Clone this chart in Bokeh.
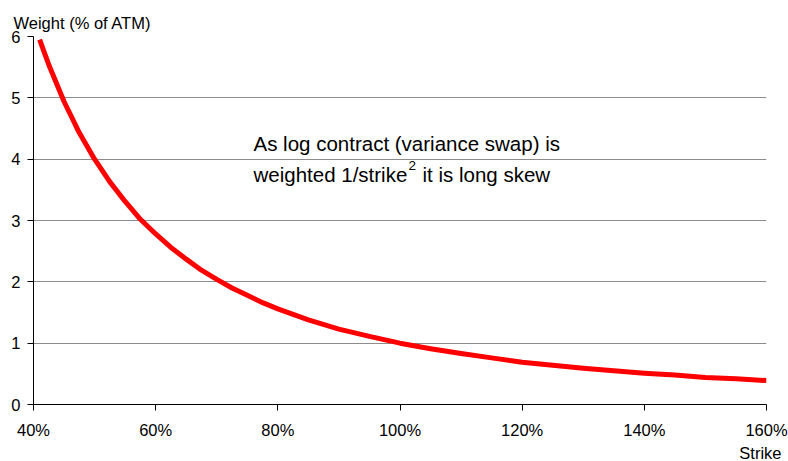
from bokeh.plotting import figure
from bokeh.models import FixedTicker, PrintfTickFormatter, Range1d, Label, Title
from bokeh.embed import file_html
from bokeh.resources import INLINE

# Strike (% of ATM) and weight (% of ATM)
strike = [41, 42.5, 45, 47.5, 50, 52.5, 55, 57.5, 60, 62.5, 65, 67.5, 70, 72.5, 75,
          77.5, 80, 85, 90, 95, 100, 105, 110, 115, 120, 125, 130, 135, 140, 145,
          150, 155, 160]
weight = [5.95, 5.54, 4.94, 4.43, 4.00, 3.63, 3.31, 3.02, 2.78, 2.56, 2.37, 2.19,
          2.04, 1.90, 1.78, 1.66, 1.56, 1.38, 1.23, 1.11, 1.00, 0.91, 0.83, 0.76,
          0.69, 0.64, 0.59, 0.55, 0.51, 0.48, 0.44, 0.42, 0.39]

x_ticks = [40, 60, 80, 100, 120, 140, 160]
y_ticks = [0, 1, 2, 3, 4, 5, 6]

FONT = "Liberation Sans"

p = figure(width=788, height=461, output_backend="svg", toolbar_location=None,
           x_range=Range1d(40, 160), y_range=Range1d(0, 6),
           min_border_left=33, min_border_right=22, min_border_top=36,
           min_border_bottom=51)
p.outline_line_color = None
p.background_fill_color = None
p.border_fill_color = None

p.title = Title(text="Weight (% of ATM)", text_font=FONT, text_font_size="16.5px",
                text_font_style="normal", text_color="black", align="left",
                offset=-20, standoff=10, text_line_height=1.0)
p.title_location = "above"

p.line(strike, weight, line_color="#ff0000", line_width=5, line_join="round")

# axes
for ax in (p.xaxis[0], p.yaxis[0]):
    ax.axis_line_color = "black"
    ax.axis_line_width = 1
    ax.major_tick_line_color = "black"
    ax.major_tick_line_width = 1
    ax.minor_tick_line_color = None
    ax.major_tick_out = 6
    ax.major_tick_in = 0
    ax.major_label_text_font = FONT
    ax.major_label_text_font_size = "16.5px"
    ax.major_label_text_color = "black"
    ax.major_label_text_line_height = 1.0

p.xaxis[0].ticker = FixedTicker(ticks=x_ticks)
p.xaxis[0].formatter = PrintfTickFormatter(format="%d%%")
p.xaxis[0].major_label_standoff = 10
p.yaxis[0].ticker = FixedTicker(ticks=y_ticks)
p.yaxis[0].major_label_standoff = 7

p.add_layout(Title(text="Strike", text_font=FONT, text_font_size="16.5px",
                   text_font_style="normal", text_color="black", align="right",
                   offset=-15, standoff=0, text_line_height=0.85), "below")

p.xgrid.grid_line_color = None
p.ygrid.grid_line_color = "#8c8c8c"
p.ygrid.grid_line_width = 1

# annotation text
p.add_layout(Label(x=40, y=6, x_offset=220, y_offset=-107,
                   text="As log contract (variance swap) is",
                   text_font=FONT, text_font_size="20.5px", text_baseline="middle",
                   text_align="left", text_color="black"))
p.add_layout(Label(x=40, y=6, x_offset=220, y_offset=-138,
                   text="weighted 1/strike",
                   text_font=FONT, text_font_size="20.5px", text_baseline="middle",
                   text_align="left", text_color="black"))
p.add_layout(Label(x=40, y=6, x_offset=375, y_offset=-129, text="2",
                   text_font=FONT, text_font_size="13.5px", text_baseline="middle",
                   text_align="left", text_color="black"))
p.add_layout(Label(x=40, y=6, x_offset=389, y_offset=-138,
                   text="it is long skew",
                   text_font=FONT, text_font_size="20.5px", text_baseline="middle",
                   text_align="left", text_color="black"))

open("out.html", "w").write(file_html(p, INLINE))
